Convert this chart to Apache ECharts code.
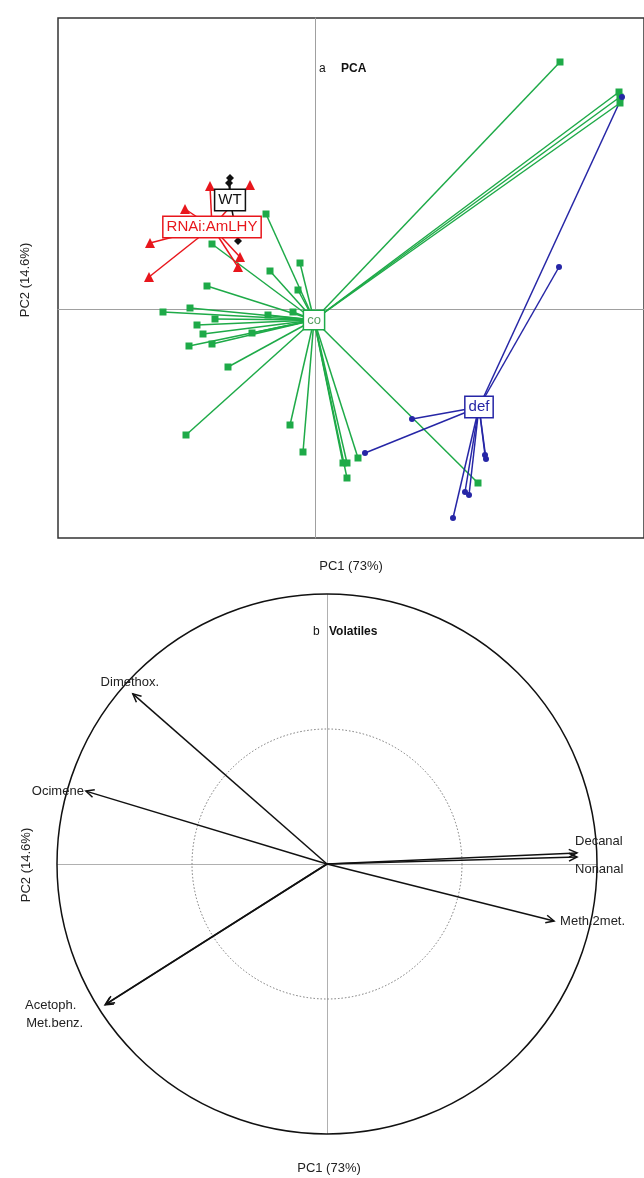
<!DOCTYPE html>
<html><head><meta charset="utf-8">
<script src="https://cdn.jsdelivr.net/npm/echarts@6/dist/echarts.min.js"></script>
<style>html,body{margin:0;padding:0;background:#fff}#c{width:644px;height:1178px}</style>
</head><body><div id="c"></div>
<script>
// ---------- Panel a: PCA scores (PC1, PC2) ----------
const coPoints = [[2.45,2.47],[3.04,2.17],[3.05,2.12],[3.05,2.06],[-1.03,0.65],[-0.49,0.95],[-0.15,0.46],[-0.45,0.38],[-0.17,0.19],[-1.08,0.23],[-1.52,-0.03],[-1.25,0.01],[-1.00,-0.10],[-0.47,-0.06],[-0.22,-0.03],[-1.18,-0.16],[-1.12,-0.25],[-0.63,-0.24],[-1.26,-0.37],[-1.03,-0.35],[-0.87,-0.58],[-1.29,-1.26],[-0.25,-1.16],[-0.12,-1.43],[0.28,-1.54],[0.32,-1.54],[0.32,-1.69],[0.43,-1.49],[1.63,-1.74]];
const coCentre = [-0.01,-0.11];
const defPoints = [[3.07,2.12],[2.44,0.42],[0.97,-1.10],[0.50,-1.44],[1.70,-1.46],[1.71,-1.50],[1.50,-1.83],[1.54,-1.86],[1.38,-2.09]];
const defCentre = [1.64,-0.98];
const rnaiPoints = [[-1.05,1.23],[-0.65,1.24],[-1.30,1.00],[-1.65,0.66],[-0.75,0.52],[-0.77,0.42],[-1.66,0.32]];
const rnaiCentre = [-1.03,0.82];
const wtPoints = [[-0.85,1.31],[-0.86,1.26],[-0.77,0.68]];
const wtCentre = [-0.85,1.09];
const groupNames = ['co','def','RNAi:AmLHY','WT'];

// ---------- Panel b: variable loadings (correlation circle) ----------
const loadNames = ['Dimethox.','Ocimene','Acetoph.','Met.benz.','Decanal','Nonanal','Meth.2met.'];
const loadX = [-0.719,-0.893,-0.822,-0.818,0.926,0.926,0.841];
const loadY = [0.630,0.270,-0.522,-0.518,0.041,0.026,-0.211];
const circleRadii = [1,0.5];

const GREEN='#1eaa48', RED='#e8161c', BLUE='#2626a6', BLACK='#111';
const FONT='"Liberation Sans", Arial, sans-serif';

function spokeSeries(c, pts, color){
  return {type:'lines', coordinateSystem:'cartesian2d', xAxisIndex:0, yAxisIndex:0, silent:true, z:2,
    data: pts.map(p => ({coords:[c,p]})), lineStyle:{color:color, width:1.5, opacity:1}, symbol:['none','none']};
}
function ptSeries(pts, symbol, size, color){
  return {type:'scatter', xAxisIndex:0, yAxisIndex:0, silent:true, z:3, symbol:symbol, symbolSize:size,
    data: pts, itemStyle:{color:color, opacity:1}};
}
const labelStyle = {
  'co':{color:GREEN, fs:13, textColor:'#55a060'},
  'def':{color:BLUE, fs:15, textColor:BLUE},
  'RNAi:AmLHY':{color:RED, fs:15, textColor:RED},
  'WT':{color:BLACK, fs:15, textColor:BLACK}
};
const centres = [coCentre, defCentre, rnaiCentre, wtCentre];

const labelSeries = {
  type:'custom', xAxisIndex:0, yAxisIndex:0, silent:true, z:20,
  data: centres.map(c => [c[0], c[1]]),
  renderItem:function(params, api){
    const p = api.coord([api.value(0), api.value(1)]);
    const name = groupNames[params.dataIndex];
    const s = labelStyle[name];
    return {type:'text', x:p[0], y:p[1], z2:100, style:{
      text:name, font: s.fs+'px '+FONT, fill:s.textColor, align:'center', verticalAlign:'middle',
      backgroundColor:'#fff', borderColor:s.color, borderWidth:1.5, padding:[3,3,2,3]}};
  }
};

const labelPlace = {
  'Dimethox.':{dx:-3,dy:-11,align:'center'},
  'Ocimene':{dx:-2,dy:0,align:'right'},
  'Acetoph.':{dx:-80,dy:0,align:'left'},
  'Met.benz.':{dx:-80,dy:20,align:'left'},
  'Decanal':{dx:-2,dy:-12,align:'left'},
  'Nonanal':{dx:-2,dy:12,align:'left'},
  'Meth.2met.':{dx:6,dy:0,align:'left'}
};

const chart = echarts.init(document.getElementById('c'), null, {renderer:'canvas'});
const option = {
  animation:false,
  backgroundColor:'#fff',
  grid:[
    {left:58, top:18, width:586, height:520, show:true, borderColor:'#333', borderWidth:1.5, backgroundColor:'transparent'},
    {left:30, top:567, width:594, height:594, show:false}
  ],
  xAxis:[
    {gridIndex:0, type:'value', min:-2.57, max:3.29, axisLine:{show:true,onZero:true,lineStyle:{color:'#a0a0a0',width:1}}, axisTick:{show:false}, axisLabel:{show:false}, splitLine:{show:false}},
    {gridIndex:1, type:'value', min:-1.1, max:1.1, show:false}
  ],
  yAxis:[
    {gridIndex:0, type:'value', min:-2.29, max:2.91, axisLine:{show:true,onZero:true,lineStyle:{color:'#a0a0a0',width:1}}, axisTick:{show:false}, axisLabel:{show:false}, splitLine:{show:false}},
    {gridIndex:1, type:'value', min:-1.1, max:1.1, show:false}
  ],
  graphic:[
    {type:'text', x:319, y:63, style:{text:'a', font:'12px '+FONT, fill:'#111'}},
    {type:'text', x:341, y:63, style:{text:'PCA', font:'bold 12px '+FONT, fill:'#111'}},
    {type:'text', x:351, y:566, style:{text:'PC1 (73%)', font:'13px '+FONT, fill:'#222', align:'center', verticalAlign:'middle'}},
    {type:'text', x:25, y:280, rotation:Math.PI/2, style:{text:'PC2 (14.6%)', font:'13px '+FONT, fill:'#222', align:'center', verticalAlign:'middle'}},
    {type:'text', x:313, y:626, style:{text:'b', font:'12px '+FONT, fill:'#111'}},
    {type:'text', x:329, y:626, style:{text:'Volatiles', font:'bold 12px '+FONT, fill:'#111'}},
    {type:'text', x:329, y:1168, style:{text:'PC1 (73%)', font:'13px '+FONT, fill:'#222', align:'center', verticalAlign:'middle'}},
    {type:'text', x:26, y:865, rotation:Math.PI/2, style:{text:'PC2 (14.6%)', font:'13px '+FONT, fill:'#222', align:'center', verticalAlign:'middle'}}
  ],
  series:[
    spokeSeries(coCentre, coPoints, GREEN),
    spokeSeries(defCentre, defPoints, BLUE),
    spokeSeries(rnaiCentre, rnaiPoints, RED),
    spokeSeries(wtCentre, wtPoints, BLACK),
    ptSeries(coPoints, 'rect', 7, GREEN),
    ptSeries(defPoints, 'circle', 6, BLUE),
    ptSeries(rnaiPoints, 'triangle', 10, RED),
    ptSeries(wtPoints, 'diamond', 8, BLACK),
    labelSeries,
    // panel b: axes cross inside the circle
    {type:'lines', coordinateSystem:'cartesian2d', xAxisIndex:1, yAxisIndex:1, silent:true, z:1,
      data:[{coords:[[-circleRadii[0],0],[circleRadii[0],0]]},{coords:[[0,-circleRadii[0]],[0,circleRadii[0]]]}],
      lineStyle:{color:'#b0b0b0', width:1, opacity:1}},
    // circles
    {type:'custom', xAxisIndex:1, yAxisIndex:1, silent:true, z:2,
      data: circleRadii.map(r => [0,0,r]),
      renderItem:function(params, api){
        const c = api.coord([api.value(0), api.value(1)]);
        const r = api.size([api.value(2),0])[0];
        const outer = params.dataIndex===0;
        return {type:'circle', shape:{cx:c[0], cy:c[1], r:r},
          style:{fill:'none', stroke: outer?'#111':'#777', lineWidth: outer?1.5:1, lineDash: outer?null:[1.5,2]}};
      }},
    // arrows
    {type:'custom', xAxisIndex:1, yAxisIndex:1, silent:true, z:5,
      data: loadNames.map((n,i)=>[loadX[i], loadY[i]]),
      renderItem:function(params, api){
        const o = api.coord([0,0]);
        const t = api.coord([api.value(0), api.value(1)]);
        const ang = Math.atan2(t[1]-o[1], t[0]-o[0]);
        const L=9, a=0.45;
        const p1=[t[0]-L*Math.cos(ang-a), t[1]-L*Math.sin(ang-a)];
        const p2=[t[0]-L*Math.cos(ang+a), t[1]-L*Math.sin(ang+a)];
        const name = loadNames[params.dataIndex];
        const lp = labelPlace[name];
        return {type:'group', children:[
          {type:'line', shape:{x1:o[0],y1:o[1],x2:t[0],y2:t[1]}, style:{stroke:'#111', lineWidth:1.5}},
          {type:'polyline', shape:{points:[p1,t,p2]}, style:{stroke:'#111', lineWidth:1.5, fill:'none'}},
          {type:'text', x:t[0]+lp.dx, y:t[1]+lp.dy, style:{text:name, fill:'#222', font:'13px '+FONT, align:lp.align, verticalAlign:'middle'}}
        ]};
      }}
  ]
};
chart.setOption(option);
</script></body></html>
